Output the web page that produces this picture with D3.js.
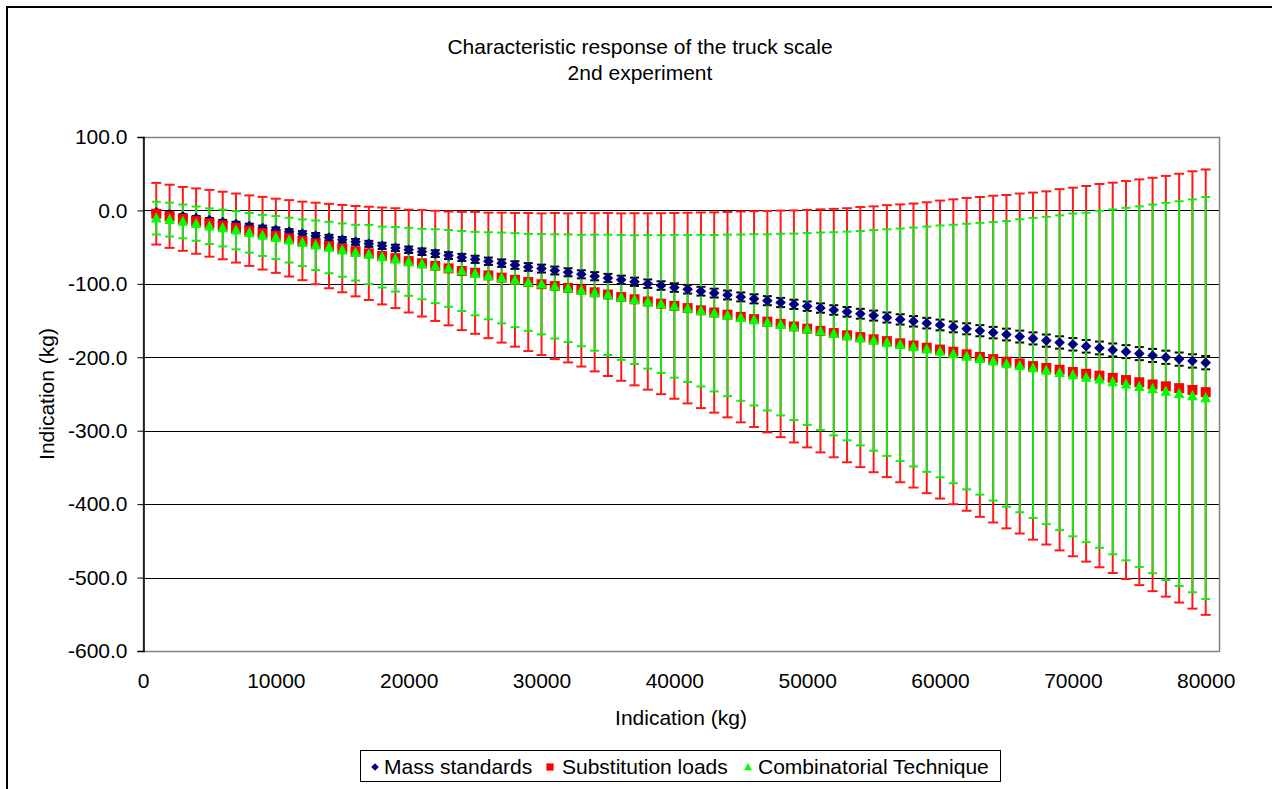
<!DOCTYPE html>
<html>
<head>
<meta charset="utf-8">
<script src="https://cdn.jsdelivr.net/npm/d3@7"></script>
<style>
  body { margin: 0; background: #fff; }
  text { font-family: "Liberation Sans", Arial, sans-serif; fill: #000; }
</style>
</head>
<body>
<div id="chart"></div>
<script>
// applied load (kg)
var loads = [1000,2000,3000,4000,5000,6000,7000,8000,9000,10000,
  11000,12000,13000,14000,15000,16000,17000,18000,19000,20000,
  21000,22000,23000,24000,25000,26000,27000,28000,29000,30000,
  31000,32000,33000,34000,35000,36000,37000,38000,39000,40000,
  41000,42000,43000,44000,45000,46000,47000,48000,49000,50000,
  51000,52000,53000,54000,55000,56000,57000,58000,59000,60000,
  61000,62000,63000,64000,65000,66000,67000,68000,69000,70000,
  71000,72000,73000,74000,75000,76000,77000,78000,79000,80000];

// Mass standards
var massStd = [-2.6,-5.2,-7.9,-10.5,-13.2,-15.9,-18.6,-21.3,-24,-26.5,
  -29,-31.8,-34.4,-37,-40,-42.8,-45.5,-48.2,-51,-53.6,
  -56.2,-58.8,-61.5,-64,-66.6,-69.2,-71.8,-74.4,-77,-79.2,
  -81.8,-84.2,-87,-89.6,-92,-94.5,-97.2,-99.8,-102.3,-105,
  -107.3,-110,-112.6,-115.2,-117.8,-120.4,-122.9,-125.4,-127.9,-130.4,
  -132.9,-135.6,-138.1,-140.7,-143.2,-145.8,-148.4,-151,-153.5,-156,
  -158.6,-161.2,-163.8,-166.4,-169,-171.8,-174.3,-177.3,-179.8,-182.3,
  -185,-187.3,-190,-192.3,-195,-197.5,-200,-202.5,-205,-207.3];
var massErr = [2.5,2.6,2.7,2.8,2.9,3,3.1,3.2,3.3,3.4,
  3.5,3.6,3.7,3.8,3.9,4,4.1,4.2,4.3,4.4,
  4.5,4.6,4.7,4.8,4.9,5,5.1,5.2,5.3,5.4,
  5.4,5.5,5.5,5.6,5.6,5.7,5.7,5.8,5.8,5.9,
  5.9,6,6,6.1,6.1,6.2,6.2,6.3,6.3,6.4,
  6.4,6.5,6.6,6.7,6.8,6.9,7,7.1,7.2,7.3,
  7.4,7.5,7.6,7.8,8,8.1,8.2,8.3,8.4,8.5,
  8.6,8.7,8.8,8.8,8.9,8.9,9,9,9.1,9.1];

// Substitution loads
var subst = [-4.5,-8,-11.5,-14.5,-17.5,-20.5,-24,-27.5,-31,-34.5,
  -38,-41.5,-45,-48.5,-52,-55.5,-58.5,-62,-65,-69,
  -72,-75.5,-79,-82.5,-85,-88.5,-91.5,-94.5,-97.5,-100.5,
  -103,-105.5,-108,-111.5,-114.5,-118,-121,-124,-127,-130,
  -133,-136,-139,-142,-145,-148,-151.5,-154.5,-158,-161,
  -164,-167,-170,-172.5,-175.5,-178,-181,-184,-187,-189.5,
  -192.5,-196,-199.5,-202.5,-206,-208.5,-212,-214.5,-217,-220,
  -222.5,-225,-228,-231,-234,-237,-239.5,-242,-244.5,-247.5];
var substErr = [42,43,43.5,44.5,45.5,46,47,48,49.5,50.5,
  52,53.5,55.5,57.5,59.5,61.5,63.5,66,68,70,
  72.5,75,77.5,80.5,83,85.5,88.5,91,94,96.5,
  99.5,101.5,104.6,107.7,111,114,117.2,120.1,123.2,126.5,
  129.8,133.2,136.4,139.8,143.6,147,150.8,154.3,158,161.7,
  165.5,169.2,173,177.1,181,185.2,189.2,193.4,198.1,202.9,
  207.6,213,217.8,222.5,227,231.5,236.3,240.5,246,251,
  255.8,261,265.8,271,276.3,281.5,286.5,292,297.8,303.3];

// Combinatorial Technique
var comb = [-10.5,-12.5,-15,-18,-21.5,-24,-27,-30.5,-34,-37,
  -40.5,-44,-47.5,-50.5,-54,-57.5,-60,-63.5,-66.5,-70,
  -73,-76,-79,-82.5,-86,-89,-92,-95,-98,-100.5,
  -103.5,-106,-109,-112,-115,-118.5,-121.5,-124.5,-127.5,-130.5,
  -133.5,-136.5,-140,-143,-146,-149,-152.5,-155.5,-158.5,-161.5,
  -164.5,-168,-171,-174,-177,-180,-183,-186,-189,-192,
  -195.5,-199,-202,-205.5,-209,-211.5,-214.5,-218,-221,-224,
  -227.5,-230,-233.5,-236.5,-240,-243,-246.5,-249.5,-252.5,-255.5];
var combErr = [22.3,23,23,23.3,24.3,25,26,27,28,29.3,
  30.5,31.8,33.8,35,36.3,38,40.3,41.5,44,46.3,
  48,50.3,52.3,54.5,56.8,59.3,61.8,64,66,68.3,
  71,73.3,75.9,79,81.9,85,87.7,90.9,93.8,97.2,
  100.1,103.3,106.5,110,113.2,116.6,120,123.7,127,130.6,
  134.4,138.3,142.1,146,150.2,154.3,158.4,162.6,167,171.5,
  176,180.8,185,189.6,194.5,199.5,204.3,209.3,214.3,219.8,
  224.3,229.5,234.8,240,245.5,251,256.8,262,267.5,273.8];

var yTicks = [100, 0, -100, -200, -300, -400, -500, -600];
var xTicks = [0, 10000, 20000, 30000, 40000, 50000, 60000, 70000, 80000];
var seriesNames = ['Mass standards', 'Substitution loads', 'Combinatorial Technique'];

var W = 1272, H = 789;
var plot = {left: 143, right: 1219, top: 137, bottom: 651};
var fontSize = 21;

var svg = d3.select('#chart').append('svg')
  .attr('width', W)
  .attr('height', H);

// outer chart frame (continues past the window edge)
svg.append('rect')
  .attr('x', 7).attr('y', 7)
  .attr('width', W + 20).attr('height', H + 20)
  .attr('fill', '#fff').attr('stroke', '#000').attr('stroke-width', 2);

var x = d3.scaleLinear().domain([0, 81000]).range([plot.left, plot.right]);
var y = d3.scaleLinear().domain([-600, 100]).range([plot.bottom, plot.top]);

// gridlines
svg.append('g').selectAll('line')
  .data(yTicks.slice(1, -1))
  .enter().append('line')
  .attr('x1', plot.left).attr('x2', plot.right)
  .attr('y1', function(d) { return Math.round(y(d)) + 0.5; })
  .attr('y2', function(d) { return Math.round(y(d)) + 0.5; })
  .attr('stroke', '#000').attr('stroke-width', 1);

// plot area border
svg.append('rect')
  .attr('x', plot.left + 0.5).attr('y', plot.top + 0.5)
  .attr('width', plot.right - plot.left).attr('height', plot.bottom - plot.top)
  .attr('fill', 'none').attr('stroke', '#808080').attr('stroke-width', 1.5);

// y axis, plain hyphen for negatives like the original
var fmt = d3.format('.1f');
var yAxis = d3.axisLeft(y).tickValues(yTicks).tickSize(6).tickPadding(10)
  .tickFormat(function(d) { return fmt(d).replace('\u2212', '-'); });
var gy = svg.append('g')
  .attr('transform', 'translate(' + (plot.left + 0.5) + ',0)')
  .call(yAxis);
gy.select('.domain').attr('stroke', '#000').attr('stroke-width', 1.5);
gy.selectAll('.tick line').attr('stroke', '#000');
gy.selectAll('text').attr('font-size', fontSize).attr('font-family', '"Liberation Sans", Arial, sans-serif');

// x axis (labels only)
var xAxis = d3.axisBottom(x).tickValues(xTicks).tickSize(0).tickPadding(22)
  .tickFormat(d3.format('d'));
var gx = svg.append('g')
  .attr('transform', 'translate(0,' + plot.bottom + ')')
  .call(xAxis);
gx.select('.domain').remove();
gx.selectAll('text').attr('font-size', fontSize).attr('font-family', '"Liberation Sans", Arial, sans-serif');

// series
var series = [
  {name: seriesNames[0], vals: massStd, errs: massErr, bar: '#000', cap: '#000', barW: 1.5, capW: 9},
  {name: seriesNames[1], vals: subst, errs: substErr, bar: '#ff1a1a', cap: '#ff1a1a', barW: 2, capW: 10},
  {name: seriesNames[2], vals: comb, errs: combErr, bar: '#1ee01a', cap: '#11ee11', barW: 2, capW: 9}
];

function rows(s) {
  return loads.map(function(l, i) { return {x: l, v: s.vals[i], e: s.errs[i]}; });
}

// error bars first, in series order
series.forEach(function(s) {
  var g = svg.append('g').attr('class', 'err');
  var r = rows(s);
  g.selectAll('line.stem').data(r).enter().append('line')
    .attr('x1', function(d) { return x(d.x); })
    .attr('x2', function(d) { return x(d.x); })
    .attr('y1', function(d) { return y(d.v + d.e); })
    .attr('y2', function(d) { return y(d.v - d.e); })
    .attr('stroke', s.bar).attr('stroke-width', s.barW);
  [1, -1].forEach(function(sign) {
    g.selectAll('line.cap' + sign).data(r).enter().append('line')
      .attr('x1', function(d) { return x(d.x) - s.capW / 2; })
      .attr('x2', function(d) { return x(d.x) + s.capW / 2; })
      .attr('y1', function(d) { return y(d.v + sign * d.e); })
      .attr('y2', function(d) { return y(d.v + sign * d.e); })
      .attr('stroke', s.cap).attr('stroke-width', 2);
  });
});

var diamond = 'M0,-5.3L5.3,0L0,5.3L-5.3,0Z';
var square = 'M-5,-5H5V5H-5Z';
var triangle = 'M0,-6L5.3,4.3L-5.3,4.3Z';

// markers
svg.append('g').selectAll('path').data(rows(series[0])).enter().append('path')
  .attr('d', diamond)
  .attr('transform', function(d) { return 'translate(' + x(d.x) + ',' + y(d.v) + ')'; })
  .attr('fill', '#000080');
svg.append('g').selectAll('path').data(rows(series[1])).enter().append('path')
  .attr('d', square)
  .attr('transform', function(d) { return 'translate(' + x(d.x) + ',' + y(d.v) + ')'; })
  .attr('fill', '#ff0000');
svg.append('g').selectAll('path').data(rows(series[2])).enter().append('path')
  .attr('d', triangle)
  .attr('transform', function(d) { return 'translate(' + x(d.x) + ',' + y(d.v) + ')'; })
  .attr('fill', '#00ff00');

// titles
svg.append('text').attr('x', 640).attr('y', 54).attr('text-anchor', 'middle')
  .attr('font-size', fontSize).text('Characteristic response of the truck scale');
svg.append('text').attr('x', 640).attr('y', 80).attr('text-anchor', 'middle')
  .attr('font-size', fontSize).text('2nd experiment');
svg.append('text').attr('x', 681).attr('y', 725).attr('text-anchor', 'middle')
  .attr('font-size', fontSize).text('Indication (kg)');
svg.append('text').attr('transform', 'translate(54,394) rotate(-90)').attr('text-anchor', 'middle')
  .attr('font-size', fontSize).text('Indication (kg)');

// legend
var leg = svg.append('g');
leg.append('rect').attr('x', 360.5).attr('y', 750.5).attr('width', 640).attr('height', 31)
  .attr('fill', '#fff').attr('stroke', '#000').attr('stroke-width', 1);
var legItems = [
  {sym: 'M0,-3.8L3.8,0L0,3.8L-3.8,0Z', fill: '#000080', sx: 375, tx: 384},
  {sym: 'M-3.6,-3.6H3.6V3.6H-3.6Z', fill: '#ff0000', sx: 550, tx: 562},
  {sym: 'M0,-4L4,3.2L-4,3.2Z', fill: '#00ff00', sx: 748, tx: 758}
];
legItems.forEach(function(it, i) {
  leg.append('path').attr('d', it.sym).attr('fill', it.fill)
    .attr('transform', 'translate(' + it.sx + ',767)');
  leg.append('text').attr('x', it.tx).attr('y', 774).attr('font-size', fontSize).text(seriesNames[i]);
});
</script>
</body>
</html>
